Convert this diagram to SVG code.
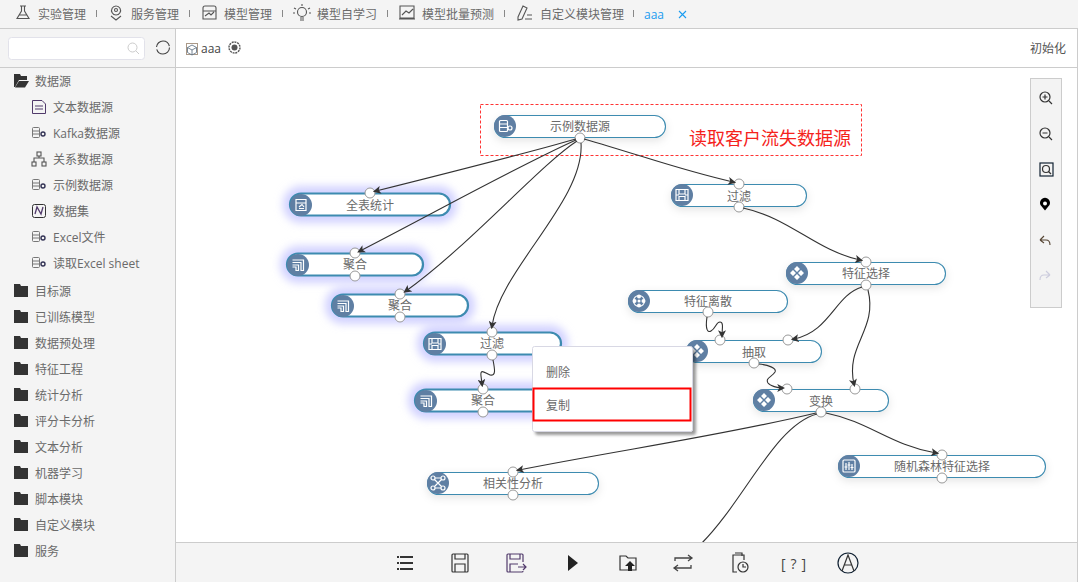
<svg xmlns="http://www.w3.org/2000/svg" width="1078" height="582" viewBox="0 0 1078 582">
<style>
text{font-family:"Open Sans","Noto Sans CJK SC",sans-serif;font-size:12px;fill:#6a6a6a;dominant-baseline:central}
.m{text-anchor:middle}
.line{fill:none;stroke:#333;stroke-width:1.1;marker-end:url(#arr)}
.node{fill:#fff;stroke:#3d8bb0;stroke-width:1.1;filter:url(#sh)}
.sel{fill:#fff;stroke:#3d8bb0;stroke-width:2.2}
.glow{fill:#d2d2ff;filter:url(#gl)}
.port{fill:#fff;stroke:#999;stroke-width:1}
.ic{fill:#5f7fa3}
.g{fill:none;stroke:#fff;stroke-width:1.2}
.k{fill:none;stroke:#555;stroke-width:1.1}
.d{fill:none;stroke:#333;stroke-width:1.2}
.sep{stroke:#888;stroke-width:1}
.bar{fill:#f4f4f4}
.rule{stroke:#ccc;stroke-width:1}
</style>
<defs>
<marker id="arr" viewBox="0 0 10 10" refX="6" refY="5" markerWidth="8" markerHeight="8" markerUnits="userSpaceOnUse" orient="auto"><path d="M0,0L10,5L0,10L2.5,5Z" fill="#333"/></marker>
<filter id="sh" x="-10%" y="-40%" width="120%" height="200%"><feDropShadow dx="0" dy="3" stdDeviation="4" flood-color="#000" flood-opacity=".1"/></filter>
<filter id="gl" x="-20%" y="-80%" width="140%" height="260%"><feGaussianBlur stdDeviation="4"/></filter>
<filter id="ms" x="-10%" y="-10%" width="125%" height="125%"><feDropShadow dx="3" dy="3" stdDeviation="1.500" flood-color="#000" flood-opacity=".4"/></filter>
<symbol id="fold" viewBox="0 0 14 13" overflow="visible"><path d="M0,0H6L7,2H14V13H0Z" fill="#333"/></symbol>
<symbol id="db" viewBox="0 0 14 12" overflow="visible"><rect x=".5" y=".5" width="7" height="10" rx="1" fill="none" stroke="#777"/><path d="M1,4H7M1,7H7" stroke="#777"/><circle cx="11" cy="7" r="2" fill="none" stroke="#335" stroke-width="1.400"/></symbol>
<symbol id="idb" viewBox="0 0 22 22"><circle cx="11" cy="11" r="11" class="ic"/><rect x="5.500" y="5.500" width="8" height="11" rx="1" class="g"/><path d="M6,9H13M6,12.500H13" class="g"/><circle cx="16" cy="13" r="2" class="g"/></symbol>
<symbol id="istat" viewBox="0 0 22 22"><circle cx="11" cy="11" r="11" class="ic"/><path d="M6,5.500H16V16.500H6ZM6,9H16M9,13L12,10.500L14,13M9,14.500H14" class="g"/></symbol>
<symbol id="iagg" viewBox="0 0 22 22"><circle cx="11" cy="11" r="11" class="ic"/><path d="M5.500,6H16.500V16.500H14V8.500H5.500M5.500,11H11.500V16.500H9V13H5.500" class="g"/></symbol>
<symbol id="ifil" viewBox="0 0 22 22"><circle cx="11" cy="11" r="11" class="ic"/><path d="M5,5.500H17V16.500H5ZM8,5.500V10H14V5.500M8,16.500V12.500H14V16.500M5,11H8M14,11H17" class="g"/></symbol>
<symbol id="ifeat" viewBox="0 0 22 22"><circle cx="11" cy="11" r="11" class="ic"/><path d="M11,4L14,7L11,10L8,7ZM7,8L10,11L7,14L4,11ZM15,8L18,11L15,14L12,11ZM11,12L14,15L11,18L8,15Z" fill="#fff"/></symbol>
<symbol id="iflow" viewBox="0 0 22 22"><circle cx="11" cy="11" r="11" class="ic"/><circle cx="11" cy="11" r="5.500" class="g"/><circle cx="11" cy="6.500" r="2" fill="#fff"/><circle cx="11" cy="15.500" r="2" fill="#fff"/><circle cx="6.500" cy="11" r="2" fill="#fff"/><circle cx="15.500" cy="11" r="2" fill="#fff"/><circle cx="11" cy="11" r="1.500" fill="#fff"/></symbol>
<symbol id="icor" viewBox="0 0 22 22"><circle cx="11" cy="11" r="11" class="ic"/><circle cx="6" cy="6" r="2" class="g"/><circle cx="16" cy="6" r="2" class="g"/><circle cx="6" cy="16" r="2" class="g"/><circle cx="16" cy="16" r="2" class="g"/><path d="M7.500,7.500L14.500,14.500M14.500,7.500L7.500,14.500M8,6H14M8,16H14" class="g"/></symbol>
<symbol id="irf" viewBox="0 0 22 22"><circle cx="11" cy="11" r="11" class="ic"/><rect x="5" y="5" width="12" height="12" rx="1" class="g"/><path d="M8,8V15M11,7V15M14,9V15M6.500,12H9.500M9.500,10H12.500M12.500,12.500H15.500" class="g"/></symbol>
</defs>

<rect id="canvas" x="0" y="0" width="1078" height="582" fill="#fff"/>

<g id="tabs">
<rect class="bar" x="0" y="0" width="1078" height="28"/>
<line class="rule" x1="0" y1="28.500" x2="1078" y2="28.500"/>
<path class="k" d="M20,6H26M21.500,6V11L17,18.500H29L24.500,11V6M19,15H27"/>
<text x="38" y="14">实验管理</text><line class="sep" x1="96.500" y1="10" x2="96.500" y2="17"/>
<path class="k" d="M116,6a4.500,4.500 0 1 0 .1,0M111,16L116,20L121,16"/><circle cx="116" cy="10" r="1.500" class="k"/>
<text x="131" y="14">服务管理</text><line class="sep" x1="189.500" y1="10" x2="189.500" y2="17"/>
<path class="k" d="M203,19V8Q203,6 205,6H214Q216,6 216,8V19ZM203,11H216M205,16L209,13L211,15L214,12"/>
<text x="224" y="14">模型管理</text><line class="sep" x1="282.500" y1="10" x2="282.500" y2="17"/>
<circle cx="302" cy="12" r="4.500" class="k"/><path class="k" d="M300,18H304M300,20H304M294,8L296,9M310,8L308,9M302,4V6M293,13H295M309,13H311"/>
<text x="317" y="14">模型自学习</text><line class="sep" x1="387.500" y1="10" x2="387.500" y2="17"/>
<path class="k" d="M400,6H414V18H400ZM402,15L406,11L409,13L413,9M399,19H415"/>
<text x="422" y="14">模型批量预测</text><line class="sep" x1="504.500" y1="10" x2="504.500" y2="17"/>
<path class="k" d="M518,17L523,6L527,8L522,19L518,20ZM527,15H532M525,19H532"/>
<text x="540" y="14">自定义模块管理</text><line class="sep" x1="633.500" y1="10" x2="633.500" y2="17"/>
<text x="644" y="14" style="fill:#1a9cf0">aaa</text>
<path d="M679,11L686,18M686,11L679,18" stroke="#1a9cf0" stroke-width="1.100" fill="none"/>
</g>

<g id="header">
<line class="rule" x1="176" y1="67.500" x2="1078" y2="67.500"/>
<rect x="186.500" y="43.500" width="11" height="11" fill="none" stroke="#a98" stroke-width="1"/>
<path d="M192,45L196.500,47.500V52.500L192,55L187.500,52.500V47.500ZM187.500,47.500L192,50L196.500,47.500M192,50V55" fill="none" stroke="#678" stroke-width=".9"/>
<text x="201" y="48.500" style="fill:#444">aaa</text>
<circle cx="234.500" cy="47.500" r="5.500" fill="none" stroke="#555" stroke-width="1.400" stroke-dasharray="2 .8"/><circle cx="234.500" cy="47.500" r="3" fill="#555"/>
<text x="1030" y="48.500" style="fill:#555">初始化</text>
<line class="rule" x1="1077.500" y1="28" x2="1077.500" y2="582"/>
</g>

<g id="annotation">
<rect x="480.500" y="104.500" width="381" height="51" fill="none" stroke="#f33" stroke-dasharray="3 2"/>
<text x="689" y="138" style="font-size:18px;fill:#f5231c">读取客户流失数据源</text>
</g>

<g id="node-all-stats"><rect class="glow" x="283" y="186" width="174" height="37" rx="18"/><rect class="sel" x="290" y="193.500" width="160" height="22" rx="11"/><use href="#istat" x="290" y="194" width="22" height="22"/><text class="m" x="370" y="205">全表统计</text><circle class="port" cx="370" cy="193" r="5"/></g>
<g id="node-agg-1"><rect class="glow" x="280" y="246" width="150" height="37" rx="18"/><rect class="sel" x="287" y="253.500" width="136" height="22" rx="11"/><use href="#iagg" x="287" y="254" width="22" height="22"/><text class="m" x="355" y="264">聚合</text><circle class="port" cx="355" cy="253" r="5"/><circle class="port" cx="355" cy="276" r="5"/></g>
<g id="node-agg-2"><rect class="glow" x="325" y="287" width="150" height="37" rx="18"/><rect class="sel" x="332" y="294.500" width="136" height="22" rx="11"/><use href="#iagg" x="332" y="295" width="22" height="22"/><text class="m" x="400" y="305">聚合</text><circle class="port" cx="400" cy="294" r="5"/><circle class="port" cx="400" cy="317" r="5"/></g>
<g id="node-filter-2"><rect class="glow" x="417" y="325" width="151" height="37" rx="18"/><rect class="sel" x="424" y="332.500" width="137" height="22" rx="11"/><use href="#ifil" x="424" y="333" width="22" height="22"/><text class="m" x="492" y="343">过滤</text><circle class="port" cx="492" cy="332" r="5"/><circle class="port" cx="492" cy="355" r="5"/></g>
<g id="node-agg-3"><rect class="glow" x="408" y="382" width="151" height="37" rx="18"/><rect class="sel" x="415" y="389.500" width="137" height="22" rx="11"/><use href="#iagg" x="415" y="390" width="22" height="22"/><text class="m" x="483" y="400">聚合</text><circle class="port" cx="483" cy="389" r="5"/><circle class="port" cx="483" cy="412" r="5"/></g>
<g id="node-sample"><rect class="node" x="494.500" y="115.500" width="171" height="22" rx="11"/><use href="#idb" x="494" y="115" width="22" height="22"/><text class="m" x="580" y="126">示例数据源</text><circle class="port" cx="580" cy="138" r="5"/></g>
<g id="node-filter-1"><rect class="node" x="671.500" y="184.500" width="135" height="22" rx="11"/><use href="#ifil" x="671" y="184" width="22" height="22"/><text class="m" x="739" y="196">过滤</text><circle class="port" cx="739" cy="184" r="5"/><circle class="port" cx="739" cy="207" r="5"/></g>
<g id="node-feature-select"><rect class="node" x="786.500" y="262.500" width="159" height="22" rx="11"/><use href="#ifeat" x="786" y="262" width="22" height="22"/><text class="m" x="866" y="273">特征选择</text><circle class="port" cx="866" cy="262" r="5"/><circle class="port" cx="866" cy="285" r="5"/></g>
<g id="node-discrete"><rect class="node" x="628.500" y="290.500" width="159" height="22" rx="11"/><use href="#iflow" x="628" y="290" width="22" height="22"/><text class="m" x="708" y="301">特征离散</text><circle class="port" cx="708" cy="312" r="5"/></g>
<g id="node-extract"><rect class="node" x="686.500" y="340.500" width="135" height="22" rx="11"/><use href="#ifeat" x="686" y="340" width="22" height="22"/><text class="m" x="754" y="352">抽取</text><circle class="port" cx="720" cy="340" r="5"/><circle class="port" cx="788" cy="340" r="5"/><circle class="port" cx="754" cy="363" r="5"/></g>
<g id="node-transform"><rect class="node" x="753.500" y="389.500" width="135" height="22" rx="11"/><use href="#ifeat" x="753" y="389" width="22" height="22"/><text class="m" x="821" y="401">变换</text><circle class="port" cx="787" cy="389" r="5"/><circle class="port" cx="855" cy="389" r="5"/><circle class="port" cx="821" cy="412" r="5"/></g>
<g id="node-correlation"><rect class="node" x="427.500" y="472.500" width="171" height="22" rx="11"/><use href="#icor" x="427" y="472" width="22" height="22"/><text class="m" x="513" y="483">相关性分析</text><circle class="port" cx="513" cy="472" r="5"/><circle class="port" cx="513" cy="495" r="5"/></g>
<g id="node-rf"><rect class="node" x="838.500" y="455.500" width="207" height="22" rx="11"/><use href="#irf" x="838" y="455" width="22" height="22"/><text class="m" x="942" y="466">随机森林特征选择</text><circle class="port" cx="942" cy="455" r="5"/><circle class="port" cx="942" cy="478" r="5"/></g>

<g id="connectors">
<path class="line" d="M576,139C520,155 440,175 376,191"/>
<path class="line" d="M576,140C520,165 430,215 360,251"/>
<path class="line" d="M577,141C540,165 470,245 406,291"/>
<path class="line" d="M581,143C585,200 500,270 492,326"/>
<path class="line" d="M584,139C640,155 680,170 733,182"/>
<path class="line" d="M743,208C790,218 815,250 860,260"/>
<path class="line" d="M862,287C835,295 830,332 794,339"/>
<path class="line" d="M868,290C878,330 845,345 854,384"/>
<path class="line" d="M707,317C705,330 708,333 711,331C716,328 716,322 720,322C724,322 722,330 722,335"/>
<path class="line" d="M759,364C768,365 777,368 775,372C772,377 765,378 768,383C770,386 778,388 782,388"/>
<path class="line" d="M493,360C495,370 496,376 490,375C485,373 480,368 481,376L482,384"/>
<path class="line" d="M816,413C720,436 620,450 519,470"/>
<path class="line" d="M826,413C870,422 890,445 936,453"/>
<path fill="none" stroke="#333" stroke-width="1.100" d="M817,414C775,425 745,500 701,544"/>
</g>

<g id="context-menu">
<rect x="532.500" y="346.500" width="160" height="85" rx="2" fill="#fff" stroke="#d8d8e4" filter="url(#ms)"/>
<text x="546" y="372">删除</text>
<rect x="533.500" y="388.500" width="157" height="32" fill="none" stroke="#f00" stroke-width="2"/>
<text x="546" y="405">复制</text>
</g>

<g id="sidebar">
<rect class="bar" x="0" y="29" width="175" height="553"/>
<line class="rule" x1="175.500" y1="28" x2="175.500" y2="582"/>
<line class="rule" x1="0" y1="67.500" x2="175" y2="67.500"/>
<rect x="8.500" y="37.500" width="136" height="22" rx="3" fill="#fff" stroke="#e2e2ea"/>
<circle cx="132.500" cy="47.500" r="4.500" fill="none" stroke="#ccc"/><path d="M136,51L139,54" stroke="#ccc"/>
<circle cx="163" cy="47.500" r="6.500" fill="none" stroke="#444" stroke-width="1.100" stroke-dasharray="18 2.400"/>
<path d="M14,74H20L21,76H27V80H19L15,87H14Z M19,81H29L25,87.500H15Z" fill="#333"/><text x="35" y="81">数据源</text>
<path d="M32.500,100.500H42L45.500,104V113.500H32.500Z" fill="none" stroke="#513a6b"/><path d="M35,106H43M35,109H43" stroke="#513a6b"/><text x="53" y="107">文本数据源</text>
<use href="#db" x="32" y="127" width="14" height="12"/><text x="53" y="133">Kafka数据源</text>
<path class="k" d="M39,156V158M34,162V158H44V162"/><rect x="37" y="152" width="4" height="4" class="k"/><rect x="32" y="162" width="4" height="4" class="k"/><rect x="42" y="162" width="4" height="4" class="k"/><text x="53" y="159">关系数据源</text>
<use href="#db" x="32" y="179" width="14" height="12"/><text x="53" y="185">示例数据源</text>
<rect x="32.500" y="204.500" width="13" height="13" rx="2" fill="none" stroke="#333"/><path d="M35,214L37,207L41,214L43,207" fill="none" stroke="#513a6b" stroke-width="1.300"/><text x="53" y="211">数据集</text>
<use href="#db" x="32" y="231" width="14" height="12"/><text x="53" y="237">Excel文件</text>
<use href="#db" x="32" y="257" width="14" height="12"/><text x="53" y="263">读取Excel sheet</text>
<use href="#fold" x="14" y="284" width="14" height="13"/><text x="35" y="291">目标源</text>
<use href="#fold" x="14" y="310" width="14" height="13"/><text x="35" y="317">已训练模型</text>
<use href="#fold" x="14" y="336" width="14" height="13"/><text x="35" y="343">数据预处理</text>
<use href="#fold" x="14" y="362" width="14" height="13"/><text x="35" y="369">特征工程</text>
<use href="#fold" x="14" y="388" width="14" height="13"/><text x="35" y="395">统计分析</text>
<use href="#fold" x="14" y="414" width="14" height="13"/><text x="35" y="421">评分卡分析</text>
<use href="#fold" x="14" y="440" width="14" height="13"/><text x="35" y="447">文本分析</text>
<use href="#fold" x="14" y="466" width="14" height="13"/><text x="35" y="473">机器学习</text>
<use href="#fold" x="14" y="492" width="14" height="13"/><text x="35" y="499">脚本模块</text>
<use href="#fold" x="14" y="518" width="14" height="13"/><text x="35" y="525">自定义模块</text>
<use href="#fold" x="14" y="544" width="14" height="13"/><text x="35" y="551">服务</text>
</g>

<g id="zoom-tools">
<rect x="1030.500" y="78.500" width="31" height="229" fill="#f3f3f3" stroke="#ccc"/>
<circle cx="1045" cy="97" r="5" class="d"/><path class="d" d="M1049,101L1052,104M1042.500,97H1047.500M1045,94.500V99.500"/>
<circle cx="1045" cy="133" r="5" class="d"/><path class="d" d="M1049,137L1052,140M1042.500,133H1047.500"/>
<rect x="1040" y="163" width="13" height="13" fill="none" stroke="#123" stroke-width="1.200"/><circle cx="1046" cy="169" r="3.500" class="d"/><path class="d" d="M1048.500,171.500L1051,174"/>
<path d="M1045,210.500L1040.500,205A5,5 0 1 1 1049.500,205Z" fill="#000"/><circle cx="1045" cy="203.500" r="2" fill="#fff"/>
<path d="M1040,240L1044,236M1040,240L1044,243M1040,240H1046Q1050,240 1050,245" fill="none" stroke="#543" stroke-width="1.100"/>
<path d="M1050,275L1046,271M1050,275L1046,278M1050,275H1044Q1040,275 1040,280" fill="none" stroke="#ccd" stroke-width="1.100"/>
</g>

<g id="toolbar">
<rect class="bar" x="176" y="542.500" width="901" height="40"/>
<line class="rule" x1="176" y1="542.500" x2="1078" y2="542.500"/>
<path d="M397,557H413M397,563H413M397,569H413" stroke="#333" stroke-width="2" stroke-dasharray="2 1 13"/>
<path class="d" d="M453,554H467Q468,554 468,555V571Q468,572 467,572H453Q452,572 452,571V555Q452,554 453,554ZM455,554V559H465V554M455,572V564H465V572"/>
<path d="M523,562V555Q523,554 522,554H508Q507,554 507,555V571Q507,572 508,572H522Q523,572 523,571M510,554V559H520V554M510,572V564H518M518,567H526M523,564L526,567L523,570" fill="none" stroke="#513a6b" stroke-width="1.200"/>
<path d="M568,555L578,563L568,571Z" fill="#222"/>
<path class="d" d="M620,570V556H626L628,558H636V570Z"/><path d="M628,571V566H625L630,561L635,566H632V571Z" fill="#222"/>
<path d="M675,561V558H691M688,555L692,558L688,561M691,565V568H675M678,565L674,568L678,571" fill="none" stroke="#444" stroke-width="1.300"/>
<path class="d" d="M737,572H733V555H744V560M735,553H742V556"/><circle cx="743" cy="567" r="5" class="d"/><path class="d" d="M743,564V567H746"/>
<text x="781" y="563" style="font-size:14px;fill:#444;letter-spacing:5px">[?]</text>
<circle cx="848" cy="563" r="10" fill="none" stroke="#123" stroke-width="1.200"/><path class="d" d="M842,571L848,555L854,571M844,565H852"/>
</g>
</svg>
